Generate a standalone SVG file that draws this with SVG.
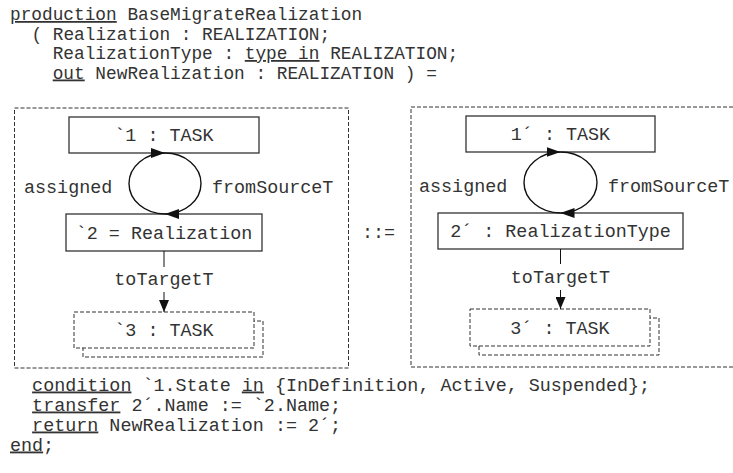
<svg xmlns="http://www.w3.org/2000/svg" width="733" height="473" viewBox="0 0 733 473">
  <style>
    text { font-family: "Liberation Mono", "Courier New", monospace; font-size: 18.4px; fill: #333; }
    .head text { font-size: 17.8px; }
    .mid { text-anchor: middle; }
    .u { text-decoration: underline; }
    .box { fill: #fff; stroke: #333; stroke-width: 1.3; }
    .dbox { fill: #fff; stroke: #333; stroke-width: 1; stroke-dasharray: 4 2; }
    .frame { fill: none; stroke: #333; stroke-width: 1; stroke-dasharray: 4 2; }
    .edge { fill: none; stroke: #111; stroke-width: 1.4; }
    .link { fill: none; stroke: #111; stroke-width: 1; }
  </style>
  <defs>
    <marker id="head" viewBox="0 0 14 10" refX="14" refY="5" markerWidth="14" markerHeight="10" markerUnits="userSpaceOnUse" orient="auto">
      <path d="M0,0 L14,5 L0,10 Z" fill="#111"/>
    </marker>
    <marker id="headSmall" viewBox="0 0 12 10" refX="12" refY="5" markerWidth="12" markerHeight="10" markerUnits="userSpaceOnUse" orient="auto">
      <path d="M0,0 L12,5 L0,10 Z" fill="#111"/>
    </marker>
  </defs>

  <!-- production header -->
  <g id="header" class="head">
    <text x="10" y="20"><tspan class="u">production</tspan> BaseMigrateRealization</text>
    <text x="31.4" y="39.5">( Realization : REALIZATION;</text>
    <text x="52.7" y="59">RealizationType : <tspan class="u">type in</tspan> REALIZATION;</text>
    <text x="52.7" y="78.5"><tspan class="u">out</tspan> NewRealization : REALIZATION ) =</text>
  </g>

  <!-- left-hand side graph -->
  <g id="lhs">
    <rect class="frame" x="14.5" y="108" width="334" height="260"/>
  </g>
  <g id="node-l1">
    <rect class="box" x="69" y="117" width="190" height="36"/>
    <text class="mid" x="164" y="141">`1 : TASK</text>
  </g>
  <g id="node-l2">
    <rect class="box" x="66" y="214" width="196" height="37"/>
    <text class="mid" x="164" y="238.5">`2 = Realization</text>
  </g>
  <g id="node-l3">
    <rect class="dbox" x="83" y="321" width="180" height="36"/>
    <rect class="dbox" x="74" y="312" width="180" height="36"/>
    <text class="mid" x="164" y="336">`3 : TASK</text>
  </g>

  <text x="362" y="238">::=</text>

  <!-- right-hand side graph -->
  <g id="rhs">
    <rect class="frame" x="411" y="107" width="340" height="260"/>
  </g>
  <g id="node-r1">
    <rect class="box" x="466" y="116" width="189" height="36"/>
    <text class="mid" x="560.5" y="140">1´ : TASK</text>
  </g>
  <g id="node-r2">
    <rect class="box" x="438" y="213" width="245" height="36"/>
    <text class="mid" x="560.5" y="237">2´ : RealizationType</text>
  </g>
  <g id="node-r3">
    <rect class="dbox" x="479" y="318" width="180" height="37"/>
    <rect class="dbox" x="470" y="309" width="180" height="37"/>
    <text class="mid" x="560" y="333.5">3´ : TASK</text>
  </g>

  <!-- connectors -->
  <g id="connectors">
    <path class="edge" d="M165,214 A36,30.5 0 0 1 165,153" marker-end="url(#head)"/>
    <path class="edge" d="M165,153 A36,30.5 0 0 1 165,214" marker-end="url(#head)"/>
    <text x="24" y="192.5">assigned</text>
    <text x="212" y="192.5">fromSourceT</text>
    <line class="link" x1="164" y1="251" x2="164" y2="267"/>
    <line class="link" x1="164" y1="292" x2="164" y2="312" marker-end="url(#headSmall)"/>
    <text class="mid" x="164" y="285">toTargetT</text>

    <path class="edge" d="M560.5,213 A36.5,30.5 0 0 1 560.5,152" marker-end="url(#head)"/>
    <path class="edge" d="M560.5,152 A36.5,30.5 0 0 1 560.5,213" marker-end="url(#head)"/>
    <text x="419" y="192">assigned</text>
    <text x="608" y="192">fromSourceT</text>
    <line class="link" x1="560.5" y1="249" x2="560.5" y2="264"/>
    <line class="link" x1="560.5" y1="290" x2="560.5" y2="309" marker-end="url(#headSmall)"/>
    <text class="mid" x="560.5" y="283">toTargetT</text>
  </g>

  <!-- condition / transfer / return clauses -->
  <g id="footer">
    <text x="32.1" y="390.5"><tspan class="u">condition</tspan> `1.State <tspan class="u">in</tspan> {InDefinition, Active, Suspended};</text>
    <text x="32.1" y="410.5"><tspan class="u">transfer</tspan> 2´.Name := `2.Name;</text>
    <text x="32.1" y="430.5"><tspan class="u">return</tspan> NewRealization := 2´;</text>
    <text x="10" y="450.5"><tspan class="u">end</tspan>;</text>
  </g>
</svg>
